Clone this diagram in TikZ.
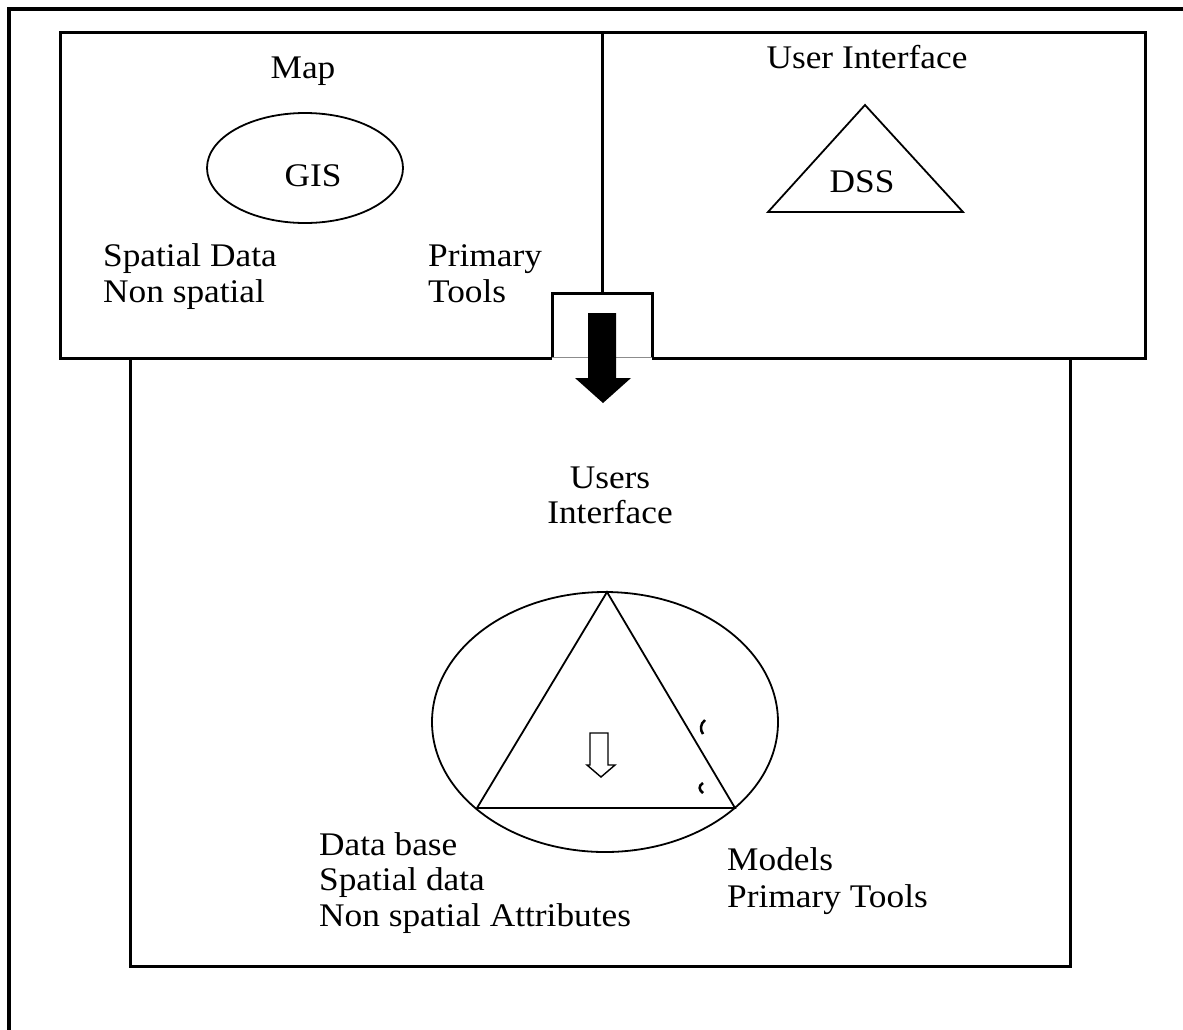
\documentclass[tikz,border=0pt]{standalone}
\usepackage{fontspec}
\setmainfont{Liberation Serif}[FakeStretch=1.07]
\usetikzlibrary{shapes.geometric}
\begin{document}
\begin{tikzpicture}[x=1pt,y=-1pt,
  frameline/.style={line width=3.2pt, line cap=rect},
  boxline/.style={line width=3pt, line join=miter},
  shapeline/.style={line width=1.8pt},
  lbl/.style={inner sep=0pt, font=\fontsize{33}{36}\selectfont},
  lblw/.style={lbl, anchor=base west},
  lblc/.style={lbl, anchor=base}]
\useasboundingbox (0,0) rectangle (1183,1029);

% outer frame (open to the right and bottom)
\draw[frameline] (9,1029) -- (9,9) -- (1183,9);

% upper panel split into Map / User Interface
\coordinate (tl) at (60,32);
\coordinate (tr) at (1145,32);
\coordinate (bl) at (60,358);
\coordinate (br) at (1145,358);
\draw[boxline] (552,358) -- (bl) -- (tl) -- (tr) -- (br) -- (652,358);
\coordinate (divtop) at (602,32);
\coordinate (divbot) at (602,293);
\draw[boxline] (divtop) -- (divbot);

% junction box where the panels meet
\draw[boxline] (552,358) -- (552,293) -- (652,293) -- (652,358);
\draw[line width=1pt, black!45] (552,357) -- (652,357);

% lower panel
\draw[boxline] (130,358) -- (130,966) -- (1070,966) -- (1070,358);

% solid arrow from the junction into the lower panel
\fill (588,313) -- (616,313) -- (616,378) -- (631,378) -- (603,403)
      -- (575,378) -- (588,378) -- cycle;

% Map side
\node[lblc] (map) at (303,78) {Map};
\node[draw, ellipse, shapeline, minimum width=196pt, minimum height=110pt, inner sep=0pt] (gis) at (305,168) {};
\node[lblc] (gistxt) at (313,186) {GIS};
\node[lblw] (sd1) at (103,266) {Spatial Data};
\node[lblw] (sd2) at (103,302) {Non spatial};
\node[lblw] (pt1) at (428,266) {Primary};
\node[lblw] (pt2) at (428,302) {Tools};

% User Interface side
\node[lblc] (ui) at (867,68) {User Interface};
\coordinate (dssa) at (865,105);
\coordinate (dssb) at (963,212);
\coordinate (dssc) at (768,212);
\draw[shapeline, line join=miter] (dssa) -- (dssb) -- (dssc) -- cycle;
\node[lblc] (dss) at (862,192) {DSS};

% lower panel contents
\node[lblc] (users1) at (610,488) {Users};
\node[lblc] (users2) at (610,523) {Interface};

\node[draw, ellipse, shapeline, minimum width=346pt, minimum height=260pt, inner sep=0pt] (big) at (605,722) {};
\coordinate (ta) at (607,592);
\coordinate (tb) at (735,808);
\coordinate (tc) at (477,808);
\draw[shapeline, line join=miter] (ta) -- (tb) -- (tc) -- cycle;

% hollow arrow inside the triangle
\draw[line width=1.4pt, fill=white] (590,733) -- (608,733) -- (608,765) -- (615,765)
      -- (601,777) -- (587,765) -- (590,765) -- cycle;

% small marks beside the right edge
\draw[line width=2.5pt] (705,720) .. controls (700,724) and (700,730) .. (703,734);
\draw[line width=2.5pt] (703,783) .. controls (698,786) and (699,790) .. (703,793);

\node[lblw] (db1) at (319,855) {Data base};
\node[lblw] (db2) at (319,890) {Spatial data};
\node[lblw] (db3) at (319,926) {Non spatial Attributes};
\node[lblw] (mo1) at (727,870) {Models};
\node[lblw] (mo2) at (727,907) {Primary Tools};
\end{tikzpicture}
\end{document}
